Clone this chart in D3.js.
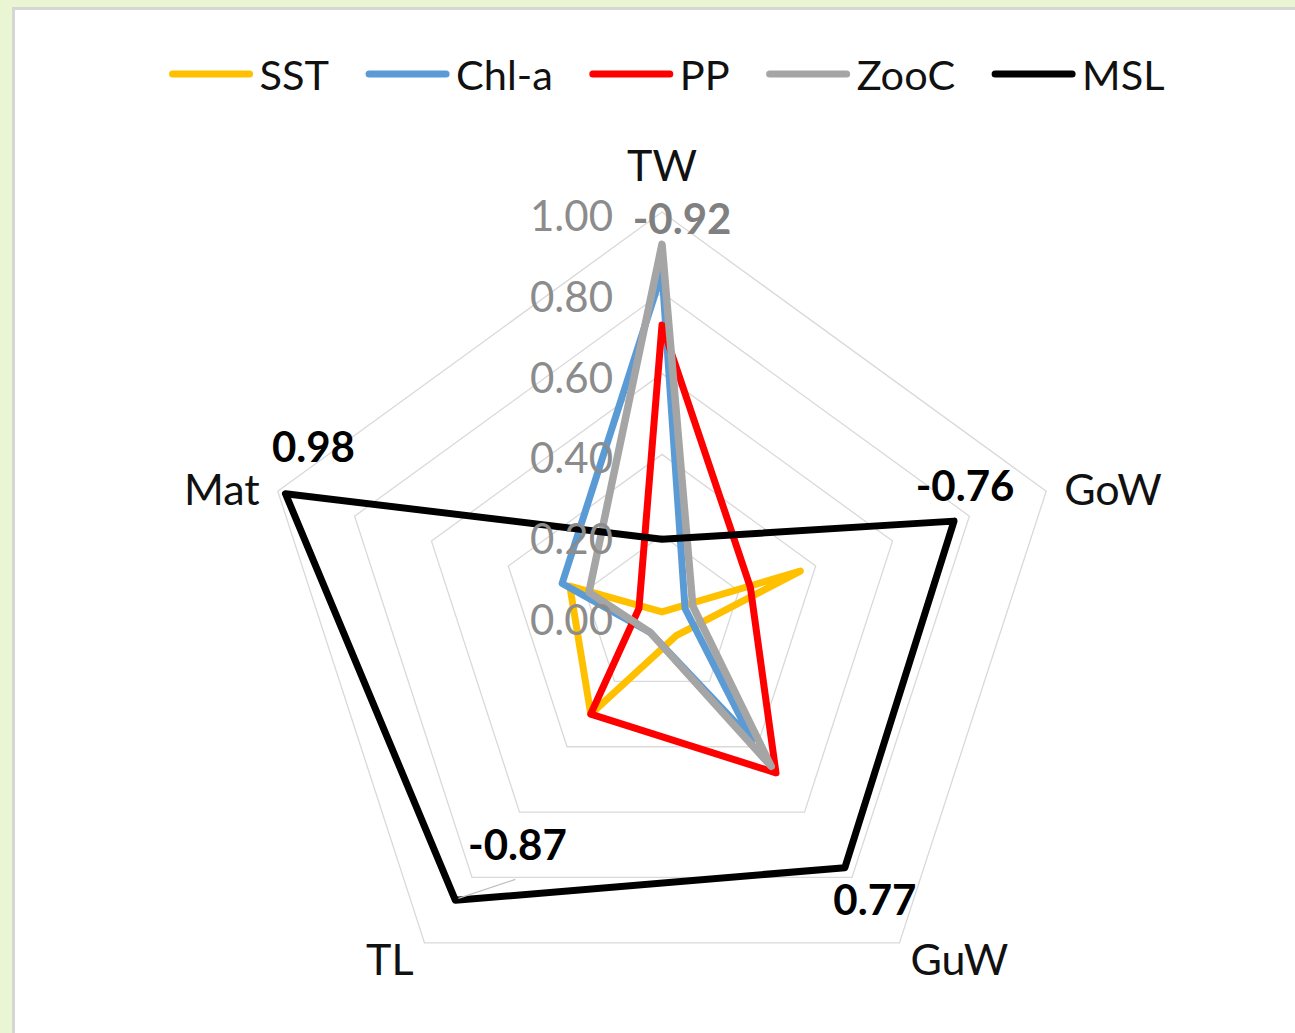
<!DOCTYPE html>
<html><head><meta charset="utf-8">
<script src="https://cdn.jsdelivr.net/npm/d3@7"></script>
<style>
html,body{margin:0;padding:0;background:#EAF5D4;overflow:hidden;}
svg{display:block;font-family:Lato,"Open Sans",sans-serif;}
</style></head><body>
<svg id="chart" width="1295" height="1033"></svg>
<script>
// Correlation magnitudes per water mass / axis
const axes = ["TW", "GoW", "GuW", "TL", "Mat"];
const seriesNames = ["SST", "Chl-a", "PP", "ZooC", "MSL"];
const sst  = [0.01, 0.36, 0.06, 0.30, 0.24];
const chla = [0.85, 0.06, 0.38, 0.05, 0.26];
const pp   = [0.72, 0.23, 0.48, 0.30, 0.06];
const zooc = [0.92, 0.08, 0.46, 0.05, 0.19];
const msl  = [0.19, 0.76, 0.77, 0.87, 0.98];
const seriesValues = [sst, chla, pp, zooc, msl];
// labelled points: sign of the correlation
const labelSeries = ["ZooC", "MSL", "MSL", "MSL", "MSL"];
const labelAxis   = ["TW", "GoW", "GuW", "TL", "Mat"];
const labelSign   = [-1, -1, 1, -1, 1];
const tickValues = [0, 0.2, 0.4, 0.6, 0.8, 1.0];

const colors = ["#FFC000", "#5B9BD5", "#FF0000", "#A5A5A5", "#000000"];

const svg = d3.select("#chart");
const W = 1295, H = 1033;
const cx = 662, cy = 616, R = 404;

// chart area
svg.append("rect").attr("x", 13.5).attr("y", 8.5).attr("width", W + 20).attr("height", H + 20)
  .attr("fill", "#fff").attr("stroke", "#D6D6D6").attr("stroke-width", 3);

const r = d3.scaleLinear().domain([0, 1]).range([0, R]);
const angle = d3.scalePoint().domain(axes).range([0, 2 * Math.PI * (axes.length - 1) / axes.length]);
const pt = (a, v) => {
  const t = angle(a) - Math.PI / 2;
  return [cx + r(v) * Math.cos(t), cy + r(v) * Math.sin(t)];
};

const g = svg.append("g").attr("transform", `translate(${cx},${cy})`);

// grid rings
const ring = d3.lineRadial().angle(d => angle(d.a)).radius(d => r(d.v)).curve(d3.curveLinearClosed);
tickValues.filter(v => v > 0).forEach(v => {
  g.append("path").attr("d", ring(axes.map(a => ({a, v}))))
    .attr("fill", "none").attr("stroke", "#D9D9D9").attr("stroke-width", 1.3);
});

// radial tick labels
svg.append("g").selectAll("text").data(tickValues).join("text")
  .attr("x", cx - 49).attr("y", v => cy - r(v) + 3)
  .attr("text-anchor", "end").attr("dominant-baseline", "central")
  .attr("fill", "#8C8C8C").attr("font-size", 42)
  .text(d3.format(".2f"));

// category labels
axes.forEach(a => {
  const [vx, vy] = pt(a, 1);
  const c = Math.cos(angle(a) - Math.PI / 2), s = Math.sin(angle(a) - Math.PI / 2);
  let x = vx, y = vy, anchor = "middle";
  if (Math.abs(c) < 0.01) { y = vy - 48; }
  else {
    anchor = c > 0 ? "start" : "end";
    x = vx + (c > 0 ? 1 : -1) * (s > 0 ? 11 : 18);
    y = vy + (s > 0 ? 16 : -3);
  }
  svg.append("text").attr("x", x).attr("y", y).attr("text-anchor", anchor)
    .attr("dominant-baseline", "central").attr("font-size", 43).attr("fill", "#111")
    .text(a);
});

// series
const line = d3.lineRadial().angle((d, i) => angle(axes[i])).radius(d => r(d)).curve(d3.curveLinearClosed);
seriesValues.forEach((vals, i) => {
  g.append("path").attr("d", line(vals)).attr("fill", "none")
    .attr("stroke", colors[i]).attr("stroke-width", i === 3 ? 7.5 : 7)
    .attr("stroke-linejoin", "round");
});

// data labels
const labelOffset = {"ZooC|TW": [20, -26], "MSL|GoW": [11, -36], "MSL|GuW": [30, 31], "MSL|TL": [62, -56], "MSL|Mat": [28, -48]};
labelSeries.forEach((sName, k) => {
  const si = seriesNames.indexOf(sName);
  const a = labelAxis[k];
  const v = seriesValues[si][axes.indexOf(a)];
  const [px, py] = pt(a, v);
  const [dx, dy] = labelOffset[sName + "|" + a];
  if (Math.hypot(dx, dy) > 70) {
    svg.append("line").attr("x1", px + 3).attr("y1", py - 2).attr("x2", px + dx - 2).attr("y2", py + dy + 35)
      .attr("stroke", "#BFBFBF").attr("stroke-width", 1.2);
  }
  svg.append("text").attr("x", px + dx).attr("y", py + dy)
    .attr("text-anchor", "middle").attr("dominant-baseline", "central")
    .attr("font-size", 42).attr("font-weight", "bold")
    .attr("fill", si === 3 ? "#808080" : "#000")
    .text((labelSign[k] < 0 ? "-" : "") + d3.format(".2f")(v));
});

// legend
const leg = svg.append("g");
let xpos = 0;
seriesNames.forEach((n, i) => {
  const it = leg.append("g").attr("transform", `translate(${xpos},0)`);
  it.append("line").attr("x1", 0).attr("x2", 77).attr("y1", 0).attr("y2", 0)
    .attr("stroke", colors[i]).attr("stroke-width", 7).attr("stroke-linecap", "round");
  const t = it.append("text").attr("x", 87).attr("y", 0).attr("dominant-baseline", "central")
    .attr("font-size", 41.5).attr("fill", "#111").text(n);
  xpos += 87 + t.node().getComputedTextLength() + 40;
});
const legW = xpos - 40;
leg.attr("transform", `translate(${668.5 - legW / 2},74)`);
</script>
</body></html>
